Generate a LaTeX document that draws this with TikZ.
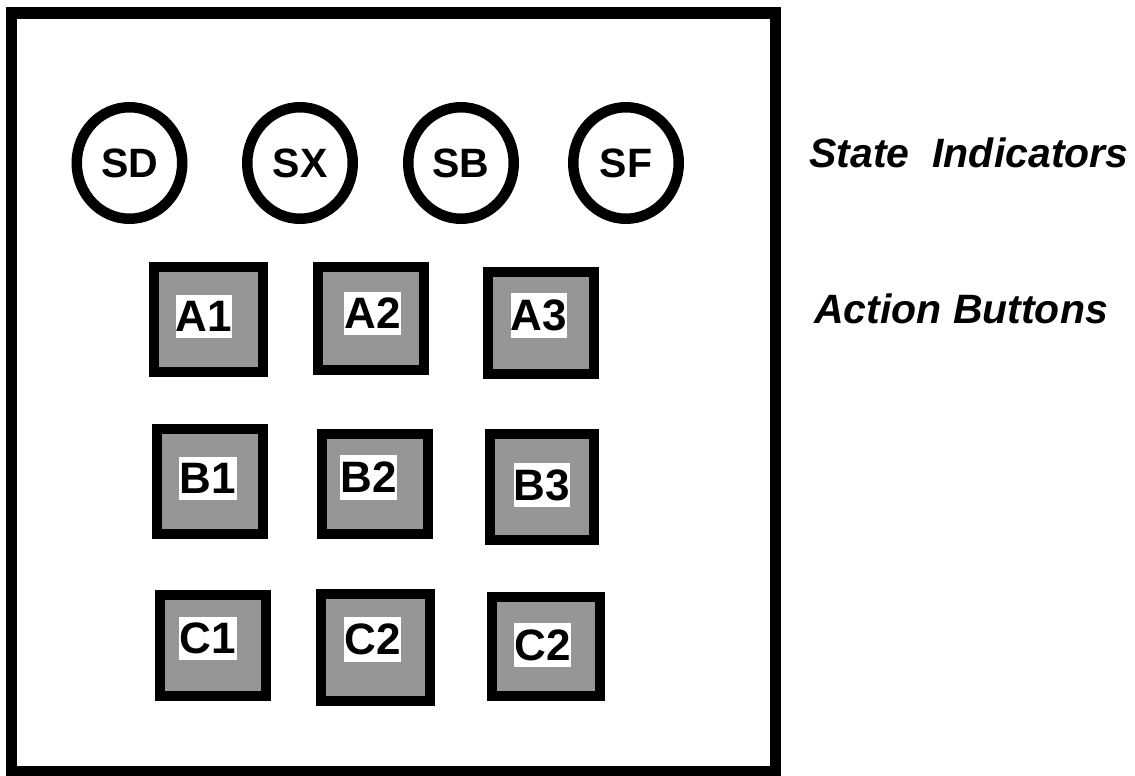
\documentclass[tikz,border=0pt]{standalone}
\usepackage{fontspec}
\setmainfont{Liberation Sans}
\usetikzlibrary{shapes.geometric}
\definecolor{btngray}{RGB}{150,150,150}
\tikzset{
  ind/.style={draw, ellipse, line width=10.5pt, minimum width=105.5pt, minimum height=111.5pt, inner sep=0pt,
    font=\fontsize{41}{41}\selectfont\bfseries},
  btn/.style={draw, fill=btngray, line width=10pt, inner sep=0pt},
  lbl/.style={fill=white, inner sep=0pt, font=\fontsize{44}{44}\selectfont\bfseries},
  side/.style={font=\fontsize{41}{41}\selectfont\bfseries\itshape, inner sep=0pt, anchor=base}
}
\begin{document}
\begin{tikzpicture}[x=1pt,y=-1pt]
\useasboundingbox (0,0) rectangle (1135,776);
\fill[white] (0,0) rectangle (1135,776);
\draw[line width=11.5pt] (11.5,13) rectangle (775.5,771.5);
% state indicators
\node[ind] (sd) at (129.5,163) {SD};
\node[ind] (sx) at (300,163) {SX};
\node[ind] (sb) at (461,163) {SB};
\node[ind] (sf) at (626,163) {SF};
% buttons
\node[btn, minimum width=109pt, minimum height=105pt] (a1) at (208.5,319.5) {};
\node[btn, minimum width=106pt, minimum height=103pt] (a2) at (371,318.5) {};
\node[btn, minimum width=106pt, minimum height=102pt] (a3) at (541,323) {};
\node[btn, minimum width=106pt, minimum height=105pt] (b1) at (210,481.5) {};
\node[btn, minimum width=106pt, minimum height=100pt] (b2) at (375,484) {};
\node[btn, minimum width=104pt, minimum height=106pt] (b3) at (542,487) {};
\node[btn, minimum width=106pt, minimum height=101pt] (c1) at (213,645.5) {};
\node[btn, minimum width=109pt, minimum height=107pt] (c2) at (375.5,647.5) {};
\node[btn, minimum width=108pt, minimum height=99pt] (c3) at (546,646.5) {};
% labels
\node[lbl, minimum width=54pt, minimum height=43pt] (a1t) at (204,316.5) {A1};
\node[lbl, minimum width=53pt, minimum height=43pt] (a2t) at (372.5,313.5) {A2};
\node[lbl, minimum width=56pt, minimum height=45pt] (a3t) at (539,315.5) {A3};
\node[lbl, minimum width=58pt, minimum height=43pt] (b1t) at (208,478.5) {B1};
\node[lbl, minimum width=57pt, minimum height=45pt] (b2t) at (368.5,477.5) {B2};
\node[lbl, minimum width=56pt, minimum height=44pt] (b3t) at (542,485) {B3};
\node[lbl, minimum width=58pt, minimum height=43pt] (c1t) at (208,638.5) {C1};
\node[lbl, minimum width=55pt, minimum height=45pt] (c2t) at (372.5,639.5) {C2};
\node[lbl, minimum width=57pt, minimum height=44pt] (c3t) at (542.5,645) {C2};
% side labels
\node[side] (si) at (969,167) {State\ \ Indicators};
\node[side] (ab) at (961,323) {Action Buttons};
\end{tikzpicture}
\end{document}
